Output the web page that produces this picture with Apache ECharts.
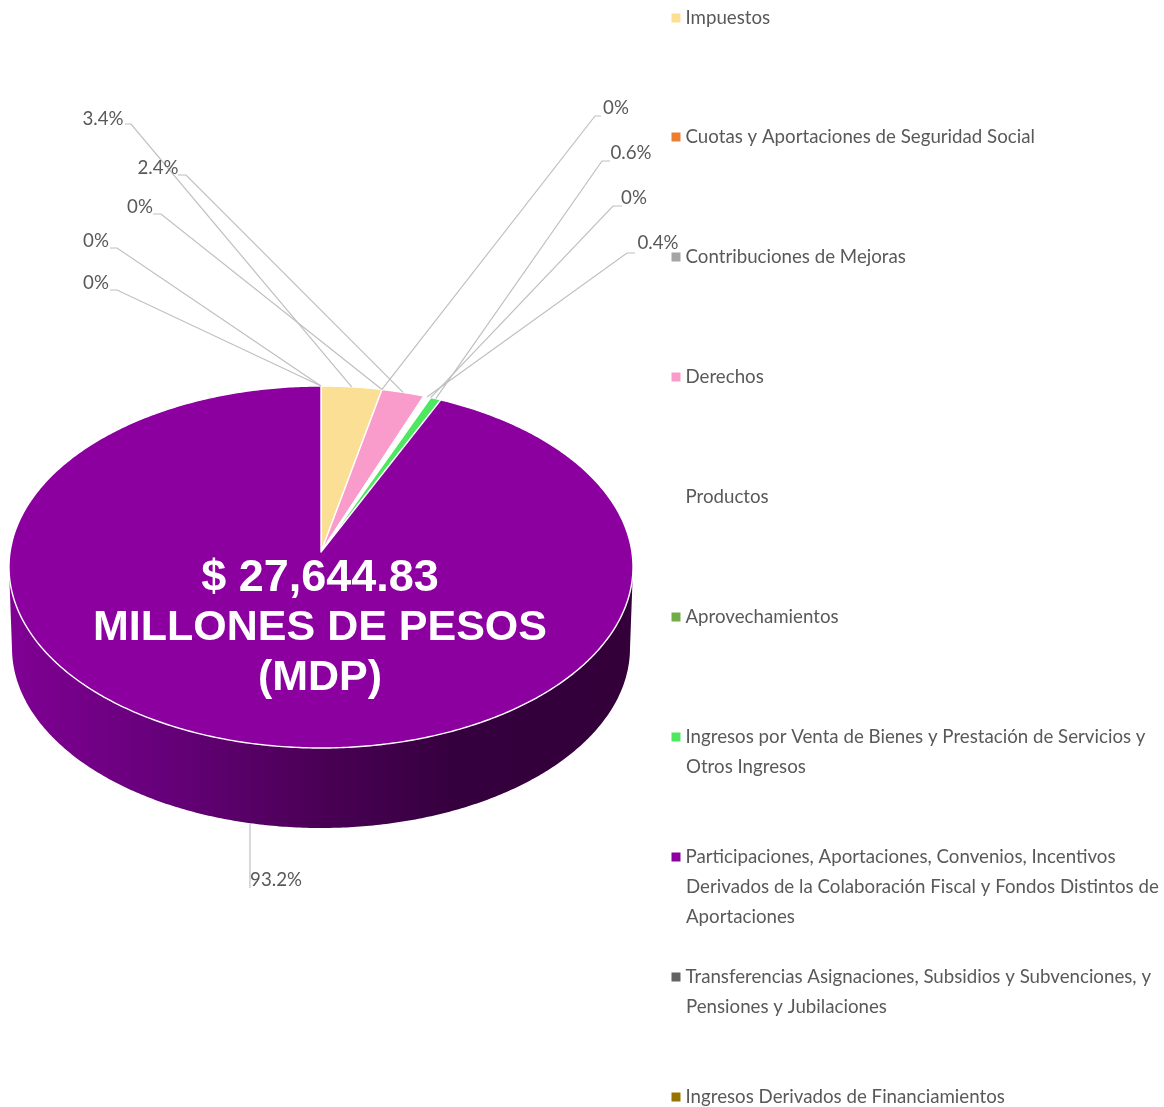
<!DOCTYPE html>
<html>
<head>
<meta charset="utf-8">
<style>html,body{margin:0;padding:0;background:#fff}#chart{width:1164px;height:1107px}</style>
<script src="https://cdn.jsdelivr.net/npm/echarts@6/dist/echarts.min.js"></script>
</head>
<body>
<div id="chart"></div>
<script>
// datos del pastel
const categories = [
  'Impuestos',
  'Cuotas y Aportaciones de Seguridad Social',
  'Contribuciones de Mejoras',
  'Derechos',
  'Productos',
  'Aprovechamientos',
  'Ingresos por Venta de Bienes y Prestación de Servicios y',
  'Participaciones, Aportaciones, Convenios, Incentivos',
  'Transferencias Asignaciones, Subsidios y Subvenciones, y',
  'Ingresos Derivados de Financiamientos'
];
const extraLines = [[], [], [], [], [], [], ['Otros Ingresos'],
  ['Derivados de la Colaboración Fiscal y Fondos Distintos de', 'Aportaciones'],
  ['Pensiones y Jubilaciones'], []];
const values = [3.4, 0, 0, 2.4, 0.4, 0, 0.6, 93.2, 0, 0];
const colors = ['#FADF94', '#ED7D31', '#A5A5A5', '#F99CCB', '#FFFFFF', '#70AD47', '#4DE85F', '#8C00A0', '#636363', '#997300'];
const centerAmount = '$ 27,644.83';
const centerUnit = ['MILLONES DE PESOS', '(MDP)'];

// layout de etiquetas: centro del texto y codo de la linea guia
const labelCenter = [[103, 119], [140, 207], [616, 108], [158, 168], [658, 243], [634, 198], [631, 153], [276, 880], [96, 241], [96, 283]];
const labelElbow = [
  [[125, 124], [131, 124]], [[153, 214], [161, 214]], [[601, 116], [595, 116]],
  [[178, 175], [186, 175]], [[635, 253], [627, 253]], [[622, 206], [613, 206]],
  [[610, 161], [602, 161]], [[250, 888]], [[110, 248], [117, 248]], [[110, 290], [117, 290]]
];
const legendY = [18, 137, 257, 377, 497, 617, 737, 857, 977, 1097];

const FONT = 'Lato';
const FONT_SIZE = 18.7;
const topFace = { cx: 321, cy: 567, rx: 312, ry: 181 };
const bottomFace = { cx: 321, cy: 648, rx: 309, ry: 180 };
const persp = 15 / 181; // el centro del pastel queda arriba del centro de la elipse

// circulo -> elipse con perspectiva
function project(theta, e) {
  const u = Math.sin(theta), v = Math.cos(theta), d = 1 + persp * v;
  return [e.cx + e.rx * Math.sqrt(1 - persp * persp) * u / d, e.cy - e.ry * (v + persp) / d];
}
const total = values.reduce((a, b) => a + b, 0);
const toAngle = (v) => v / total * Math.PI * 2;

function arcThetas(start, end) {
  const list = [];
  const n = Math.max(2, Math.ceil((end - start) / 0.01));
  for (let i = 0; i <= n; i++) list.push(start + (end - start) * i / n);
  return list;
}

function renderSlice(params) {
  const i = params.seriesIndex;
  const start = toAngle(values.slice(0, i).reduce((a, b) => a + b, 0));
  const end = start + toAngle(values[i]);
  const mid = (start + end) / 2;
  const children = [];

  if (values[i] > 0) {
    const thetas = arcThetas(start, end);
    const front = thetas.filter((t) => project(t, topFace)[1] >= topFace.cy);
    if (front.length > 1) {
      const upper = front.map((t) => project(t, topFace));
      const lower = front.map((t) => project(t, bottomFace)).reverse();
      children.push({
        type: 'polygon',
        shape: { points: upper.concat(lower) },
        style: {
          fill: new echarts.graphic.LinearGradient(0, 0, 1, 0, [
            { offset: 0, color: '#800094' },
            { offset: 0.25, color: '#66007A' },
            { offset: 0.5, color: '#4A0055' },
            { offset: 0.72, color: '#35003E' },
            { offset: 1, color: '#33003A' }
          ])
        }
      });
    }
    children.push({
      type: 'polygon',
      shape: { points: [[topFace.cx, topFace.cy - topFace.ry * persp]].concat(thetas.map((t) => project(t, topFace))) },
      style: { fill: colors[i], stroke: '#fff', lineWidth: 1.4, lineJoin: 'round' }
    });
  }

  // linea guia y etiqueta
  const onFront = project(mid, topFace)[1] >= topFace.cy;
  const anchor = project(mid, onFront ? bottomFace : topFace);
  children.push({
    type: 'polyline',
    shape: { points: labelElbow[i].concat([anchor]) },
    style: { fill: 'none', stroke: '#BFBFBF', lineWidth: 1.2 },
    z2: 5
  });
  children.push({
    type: 'text',
    style: {
      text: values[i] + '%', x: labelCenter[i][0], y: labelCenter[i][1],
      align: 'center', verticalAlign: 'middle',
      fontFamily: FONT, fontSize: FONT_SIZE, fill: '#595959'
    },
    z2: 6
  });
  return { type: 'group', children };
}

const chart = echarts.init(document.getElementById('chart'), null, { renderer: 'canvas' });
chart.setOption({
  animation: false,
  backgroundColor: '#fff',
  title: {
    text: '{a|' + centerAmount + '}\n' + centerUnit.join('\n'),
    left: 320,
    top: 554,
    textAlign: 'center',
    padding: 0,
    textStyle: {
      color: '#fff', fontFamily: 'Liberation Sans', fontWeight: 'bold', fontSize: 43, lineHeight: 49.5,
      rich: { a: { color: '#fff', fontFamily: 'Liberation Sans', fontWeight: 'bold', fontSize: 45, lineHeight: 49.5 } }
    }
  },
  legend: categories.map((name, i) => ({
    data: [name],
    left: 671.5,
    top: legendY[i] - 15,
    padding: 0,
    icon: 'rect',
    itemWidth: 9,
    itemHeight: 9,
    selectedMode: false,
    textStyle: { fontFamily: FONT, fontSize: FONT_SIZE, color: '#595959', lineHeight: 30 }
  })),
  graphic: categories.flatMap((name, i) => extraLines[i].map((line, j) => ({
    type: 'text',
    silent: true,
    style: {
      text: line, x: 686, y: legendY[i] + 30 * (j + 1),
      verticalAlign: 'middle', fontFamily: FONT, fontSize: FONT_SIZE, fill: '#595959'
    }
  }))),
  series: categories.map((name, i) => ({
    type: 'custom',
    name,
    coordinateSystem: 'none',
    clip: false,
    silent: true,
    itemStyle: { color: colors[i] },
    data: [[values[i]]],
    renderItem: renderSlice
  }))
});
</script>
</body>
</html>
